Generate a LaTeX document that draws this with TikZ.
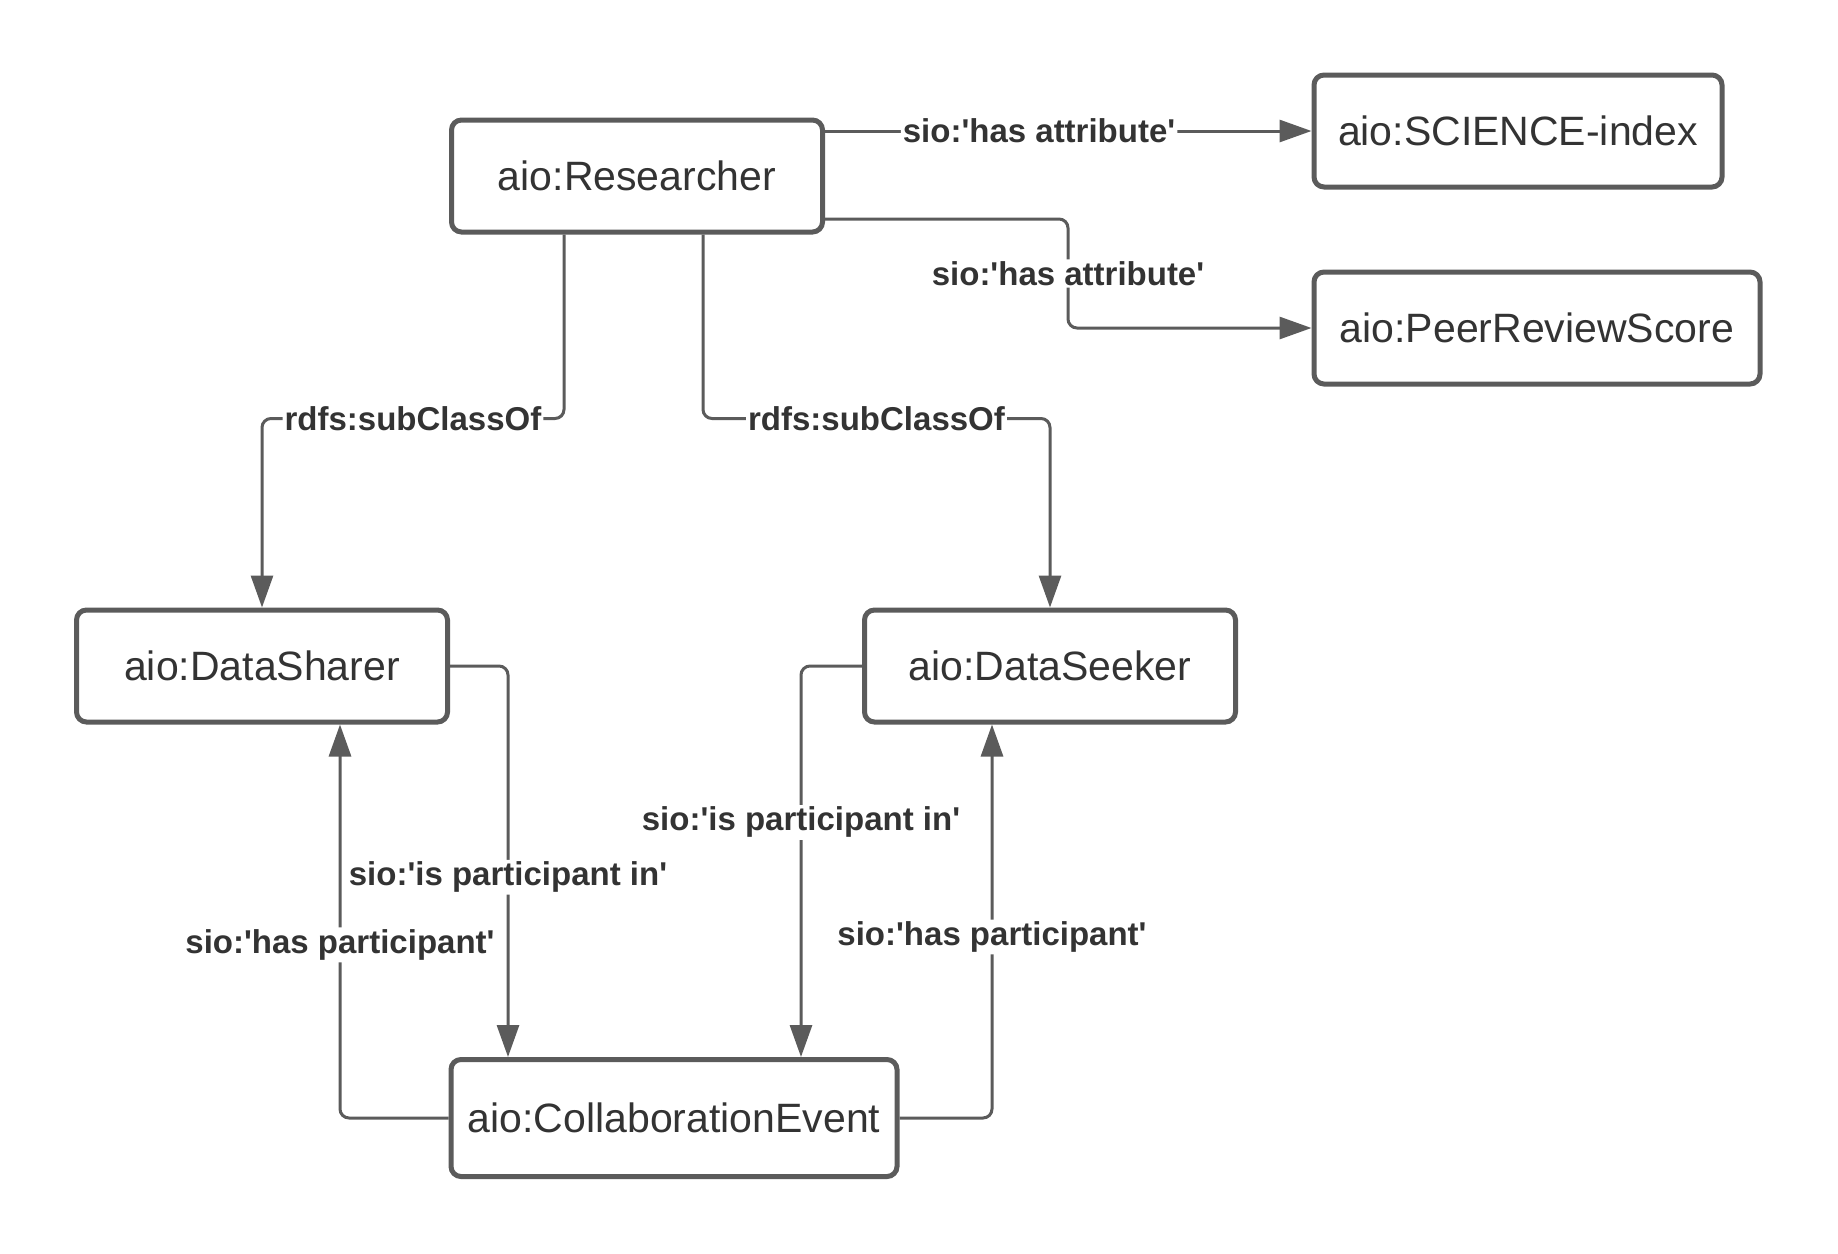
\documentclass[tikz,border=0pt]{standalone}
\usepackage{fontspec}
\setmainfont{Liberation Sans}
\usetikzlibrary{positioning, arrows.meta}
\definecolor{edgegray}{HTML}{5B5B5B}
\definecolor{textgray}{HTML}{333333}
\newcommand{\q}{\textquotesingle}
\tikzset {
    x=1pt, y=-1pt,
    >={Triangle[length=32pt, width=22pt]},
    cls/.style={draw=edgegray, line width=5pt, rounded corners=10pt, fill=white,
        text=textgray, minimum width=371pt, minimum height=112pt,
        font=\fontsize{41pt}{49pt}\selectfont},
    rel/.style={->, draw=edgegray, line width=3pt, rounded corners=9pt},
    lbl/.style={fill=white, text=textgray, inner sep=2pt,
        font=\fontsize{33pt}{40pt}\selectfont\bfseries}
}
\begin{document}
\begin{tikzpicture}
                \useasboundingbox[fill=white] (0,0) rectangle (1838,1253);

                \node[cls] (res) at (637,176) {aio:Researcher};
                \node[cls, minimum width=408pt] (sci) at (1518,131) {aio:SCIENCE-index};
                \node[cls, minimum width=446pt, below=80pt of sci.south west, anchor=north west] (prs) {aio:PeerReviewScore};
                \node[cls] (dsh) at (262,666) {aio:DataSharer};
                \node[cls, right=412pt of dsh] (dsk) {aio:DataSeeker};
                \node[cls, minimum width=446pt, minimum height=117pt] (ce) at (674,1118) {aio:CollaborationEvent};

                % attributes
                \draw[rel] (res.east |- sci.west) -- node[lbl, pos=0.44]{sio:\q has attribute\q} (sci.west);
                \draw[rel] ([yshift=-43pt]res.east) -- ++(243,0) |- node[lbl, pos=0.25]{sio:\q has attribute\q} (prs.west);

                % subclasses
                \draw[rel] ([xshift=-73pt]res.south) -- ++(0,184) -| node[lbl, pos=0.25]{rdfs:subClassOf} (dsh.north);
                \draw[rel] ([xshift=66pt]res.south) -- ++(0,184) -| node[lbl, pos=0.25]{rdfs:subClassOf} (dsk.north);

                % participation
                \draw[rel] (dsh.east) -| node[lbl, pos=0.77]{sio:\q is participant in\q} ([xshift=-166pt]ce.north);
                \draw[rel] (ce.west) -| node[lbl, pos=0.72]{sio:\q has participant\q} ([xshift=78pt]dsh.south);
                \draw[rel] (dsk.west) -| node[lbl, pos=0.70]{sio:\q is participant in\q} ([xshift=127pt]ce.north);
                \draw[rel] (ce.east) -| node[lbl, pos=0.73]{sio:\q has participant\q} ([xshift=-58pt]dsk.south);
            \end{tikzpicture}
\end{document}
